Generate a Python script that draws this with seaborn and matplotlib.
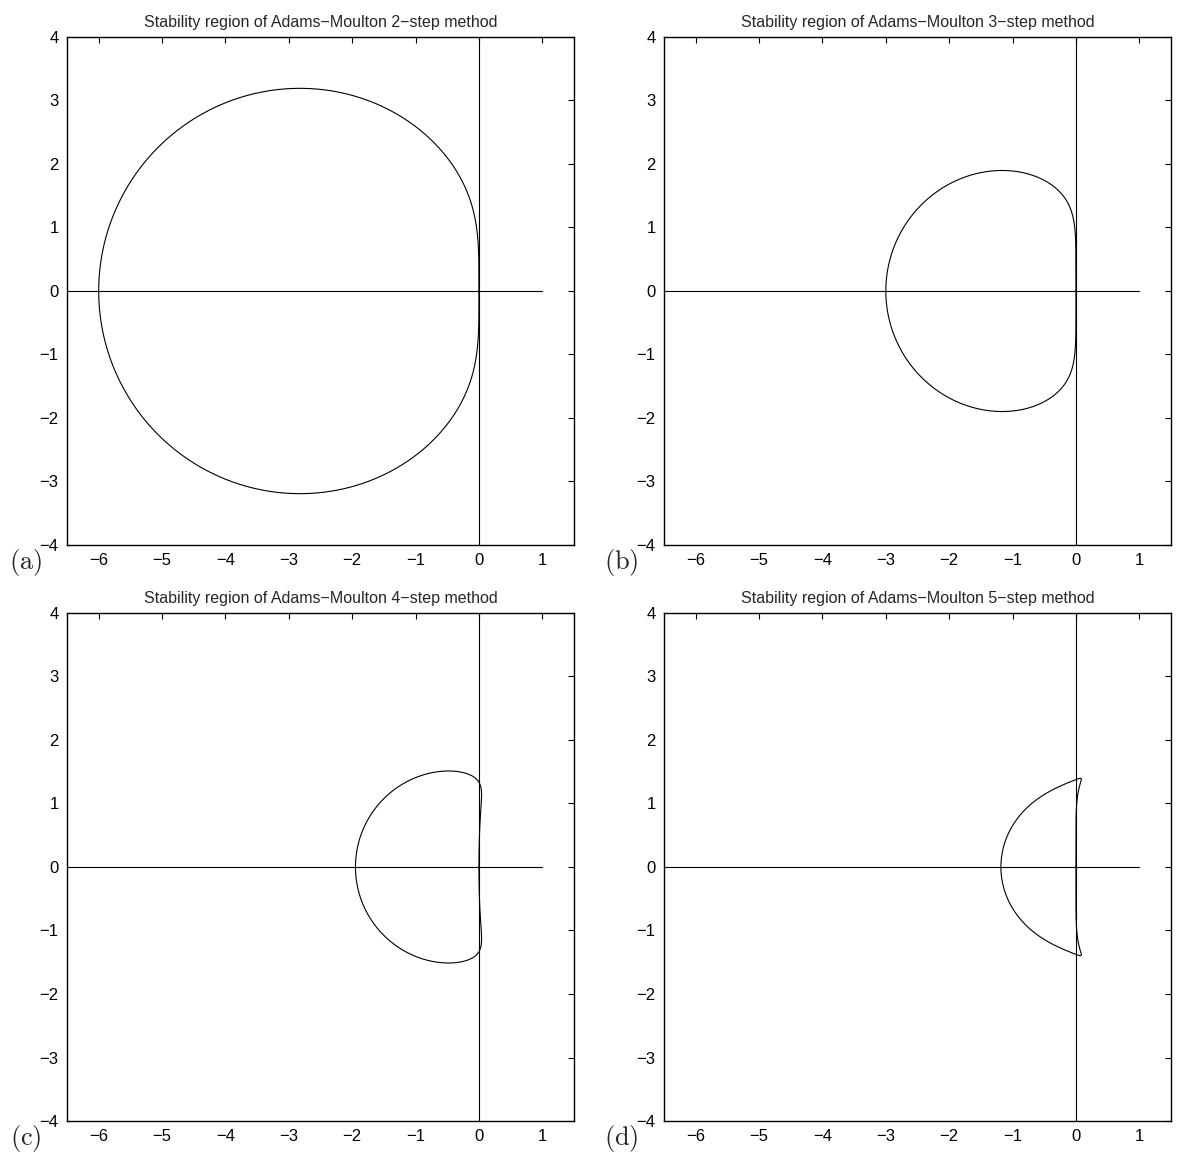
import numpy as np
import pandas as pd
import matplotlib
matplotlib.use("Agg")
import matplotlib.pyplot as plt
import seaborn as sns

# Adams-Moulton k-step methods: rho(z) = z^k - z^(k-1),
# sigma(z) coefficients (highest power first), with common denominators
steps = [2, 3, 4, 5]
sigma_am2 = [5, 8, -1]
den_am2 = 12
sigma_am3 = [9, 19, -5, 1]
den_am3 = 24
sigma_am4 = [296, 646, -264, 106, -19]
den_am4 = 720
sigma_am5 = [475, 1427, -798, 482, -173, 27]
den_am5 = 1440
panel_labels = ["(a)", "(b)", "(c)", "(d)"]

x_ticks = [-6, -5, -4, -3, -2, -1, 0, 1]
y_ticks = [-4, -3, -2, -1, 0, 1, 2, 3, 4]

sigmas = [(sigma_am2, den_am2), (sigma_am3, den_am3),
          (sigma_am4, den_am4), (sigma_am5, den_am5)]

sns.set_style("white")
plt.rcParams.update({
    "font.family": ["Liberation Sans", "DejaVu Sans"],
    "mathtext.fontset": "cm",
    "xtick.direction": "in",
    "ytick.direction": "in",
    "xtick.top": True,
    "ytick.right": True,
    "xtick.major.size": 4,
    "ytick.major.size": 4,
    "xtick.major.width": 0.8,
    "ytick.major.width": 0.8,
    "axes.linewidth": 1.0,
    "axes.edgecolor": "black",
})

W, H = 1177, 1157
fig = plt.figure(figsize=(W / 100, H / 100), dpi=100)

boxes = [(67, 37), (664, 37), (67, 613), (664, 613)]
aw, ah = 507, 508

theta = np.linspace(0, 2 * np.pi, 2001)
zeta = np.exp(1j * theta)

for i, (k, (sig, den), lab, (px, py)) in enumerate(zip(steps, sigmas, panel_labels, boxes)):
    ax = fig.add_axes([px / W, 1 - (py + ah) / H, aw / W, ah / H])
    rho = zeta ** k - zeta ** (k - 1)
    sigma = np.polyval(np.array(sig, dtype=float) / den, zeta)
    z = rho / sigma
    df = pd.DataFrame({"re": z.real, "im": z.imag})
    ax.axhline(0, xmin=0, xmax=(1 + 6.5) / 8.0, color="black", lw=0.8)
    ax.axvline(0, color="black", lw=0.8)
    sns.lineplot(data=df, x="re", y="im", sort=False, estimator=None,
                 color="black", lw=0.8, ax=ax)
    ax.set_xlim(-6.5, 1.5)
    ax.set_ylim(-4, 4)
    ax.set_xticks(x_ticks)
    ax.set_yticks(y_ticks)
    ax.set_xticklabels([f"{t}".replace("-", "\u2212") for t in x_ticks])
    ax.set_yticklabels([f"{t}".replace("-", "\u2212") for t in y_ticks])
    ax.tick_params(labelsize=12, pad=6, colors="black")
    ax.set_xlabel("")
    ax.set_ylabel("")
    ax.set_title(f"Stability region of Adams\u2212Moulton {k}\u2212step method",
                 fontsize=11.5, pad=7)
    for s in ax.spines.values():
        s.set_visible(True)
    fig.text(42 / W + (px - 67) / W, 1 - (py + ah + 17) / H,
             r"$\mathrm{" + lab + "}$", fontsize=19, ha="right", va="center")

fig.savefig("out.png", dpi=100)
